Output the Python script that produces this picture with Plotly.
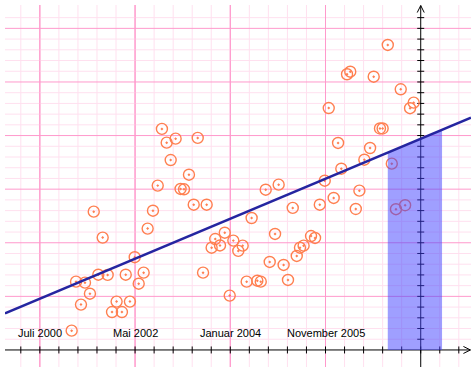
import plotly.graph_objects as go

# ---- data (x in grid steps, 0 = y-axis; y in grid steps, 0 = x-axis) ----
point_x = [-18.33, -18.10, -17.84, -17.63, -17.37, -16.93, -16.44, -16.21, -15.97, -15.69,
           -15.49, -15.27, -15.02, -14.81, -14.55, -17.17, -16.70, -14.34, -14.06, -13.81,
           -13.59, -13.34, -13.13, -12.87, -12.61, -12.43, -12.17, -11.92, -11.71, -11.24,
           -11.43, -10.98, -10.79, -10.54, -10.29, -10.03, -9.84, -9.58, -9.35, -9.14,
           -8.88, -8.58, -8.40, -8.14, -7.93, -7.65, -7.46, -7.20, -6.97, -6.72,
           -6.51, -6.34, -6.15, -5.76, -5.55,
           -5.30, -5.04, -4.83, -4.57, -4.34, -4.17, -3.87, -3.70, -3.41, -3.22,
           -2.96, -2.66, -2.47, -2.14, -2.00, -1.73, -1.52, -1.30, -1.05, -0.82,
           -0.56, -0.37]
point_y = [1.80, 6.37, 4.23, 6.28, 5.25, 7.02, 7.00, 3.54, 4.51, 3.54,
           7.02, 4.51, 8.65, 6.18, 7.21, 12.90, 10.48, 11.32, 12.99, 15.33,
           20.62, 19.34, 17.72, 19.71, 15.02, 14.99, 16.35, 13.55, 19.78, 13.55,
           7.21, 9.54, 10.35, 9.75, 10.94, 5.07, 10.20, 9.24, 9.73, 6.37,
           12.31, 6.46, 6.37, 14.95, 8.21, 10.82, 15.42, 7.93, 6.53, 13.25,
           8.77, 9.54, 9.73, 10.63, 10.45,
           13.55, 15.79, 22.57, 14.18, 19.31, 16.91, 25.72, 25.96, 13.15, 14.86,
           17.75, 18.84, 25.49, 20.66, 20.66, 28.45, 17.38, 13.13, 24.32, 13.50,
           22.55, 23.07]

trend_intercept = 19.7
trend_slope = 0.746

band_start = -1.73
band_end = 1.12

tick_positions = [-20, -15, -10, -5]
tick_labels = ["Juli 2000", "Mai 2002", "Januar 2004", "November 2005"]

# ---- geometry ----
W, H = 476, 372
ML, MR, MT, MB = 5, 5, 5, 5
XMIN, XMAX = -21.83, 2.64
YMIN, YMAX = -1.59, 32.18
px_x = (W - ML - MR) / (XMAX - XMIN)
px_y = (H - MT - MB) / (YMAX - YMIN)

MAJOR = "#ff99cc"
MINOR = "#ffe0ef"

shapes = []
# vertical grid lines
for i in range(-21, 3):
    if i == 0:
        continue
    col = MAJOR if i % 5 == 0 else MINOR
    shapes.append(dict(type="line", layer="below", x0=i, x1=i, y0=YMIN, y1=YMAX,
                       line=dict(color=col, width=1)))
# horizontal grid lines
for j in range(1, 32):
    col = MAJOR if j % 5 == 0 else MINOR
    shapes.append(dict(type="line", layer="below", x0=XMIN, x1=XMAX, y0=j, y1=j,
                       line=dict(color=col, width=1)))
# redraw majors on top of minors
for i in range(-20, 1, 5):
    if i == 0:
        continue
    shapes.append(dict(type="line", layer="below", x0=i, x1=i, y0=YMIN, y1=YMAX,
                       line=dict(color=MAJOR, width=1)))

# axes
ax_top = YMAX - 0.05
ax_right = XMAX - 0.03
shapes.append(dict(type="line", layer="below", x0=XMIN, x1=ax_right, y0=0, y1=0,
                   line=dict(color="black", width=1)))
shapes.append(dict(type="line", layer="below", x0=0, x1=0, y0=YMIN, y1=ax_top,
                   line=dict(color="black", width=1)))
tx = 3.5 / px_x
ty = 3.5 / px_y
for i in range(-21, 3):
    shapes.append(dict(type="line", layer="below", x0=i, x1=i, y0=-ty, y1=ty,
                       line=dict(color="black", width=1)))
for j in range(1, 32):
    shapes.append(dict(type="line", layer="below", x0=-tx, x1=tx, y0=j, y1=j,
                       line=dict(color="black", width=1)))
# arrow heads
aw_x = 3.5 / px_x
ah_y = 7 / px_y
shapes.append(dict(type="path", layer="below",
                   path=f"M {-aw_x},{ax_top - ah_y} L 0,{ax_top} L {aw_x},{ax_top - ah_y}",
                   line=dict(color="black", width=1)))
ah_x = 7 / px_x
aw_y = 3.5 / px_y
shapes.append(dict(type="path", layer="below",
                   path=f"M {ax_right - ah_x},{aw_y} L {ax_right},0 L {ax_right - ah_x},{-aw_y}",
                   line=dict(color="black", width=1)))

fig = go.Figure()

fig.add_trace(go.Scatter(
    x=point_x, y=point_y, mode="markers",
    marker=dict(symbol="circle-open-dot", size=11, color="#ff7f50",
                line=dict(color="#ff7f50", width=1.4)),
    hoverinfo="skip", showlegend=False))

band_x = [band_start, band_start, band_end, band_end, band_start]
band_y = [0, trend_intercept + trend_slope * band_start,
          trend_intercept + trend_slope * band_end, 0, 0]
fig.add_trace(go.Scatter(
    x=band_x, y=band_y, mode="lines", fill="toself",
    fillcolor="rgba(64,64,255,0.5)", line=dict(width=0),
    hoverinfo="skip", showlegend=False))

line_x = [XMIN, XMAX]
line_y = [trend_intercept + trend_slope * v for v in line_x]
fig.add_trace(go.Scatter(
    x=line_x, y=line_y, mode="lines",
    line=dict(color="#2525a0", width=2.6),
    hoverinfo="skip", showlegend=False))

annotations = [dict(x=p, y=1.56, text=t, showarrow=False, xanchor="center", yanchor="middle",
                    font=dict(family="Liberation Sans", size=11, color="black"))
               for p, t in zip(tick_positions, tick_labels)]

fig.update_layout(
    width=W, height=H, autosize=False,
    margin=dict(l=ML, r=MR, t=MT, b=MB, pad=0),
    paper_bgcolor="white", plot_bgcolor="white",
    xaxis=dict(range=[XMIN, XMAX], showgrid=False, zeroline=False, showticklabels=False,
               ticks="", showline=False, fixedrange=True),
    yaxis=dict(range=[YMIN, YMAX], showgrid=False, zeroline=False, showticklabels=False,
               ticks="", showline=False, fixedrange=True),
    shapes=shapes, annotations=annotations, showlegend=False,
)

fig.write_html("out.html", config={"displayModeBar": False},
               post_script="document.body.style.margin='0';document.body.style.overflow='hidden';")
